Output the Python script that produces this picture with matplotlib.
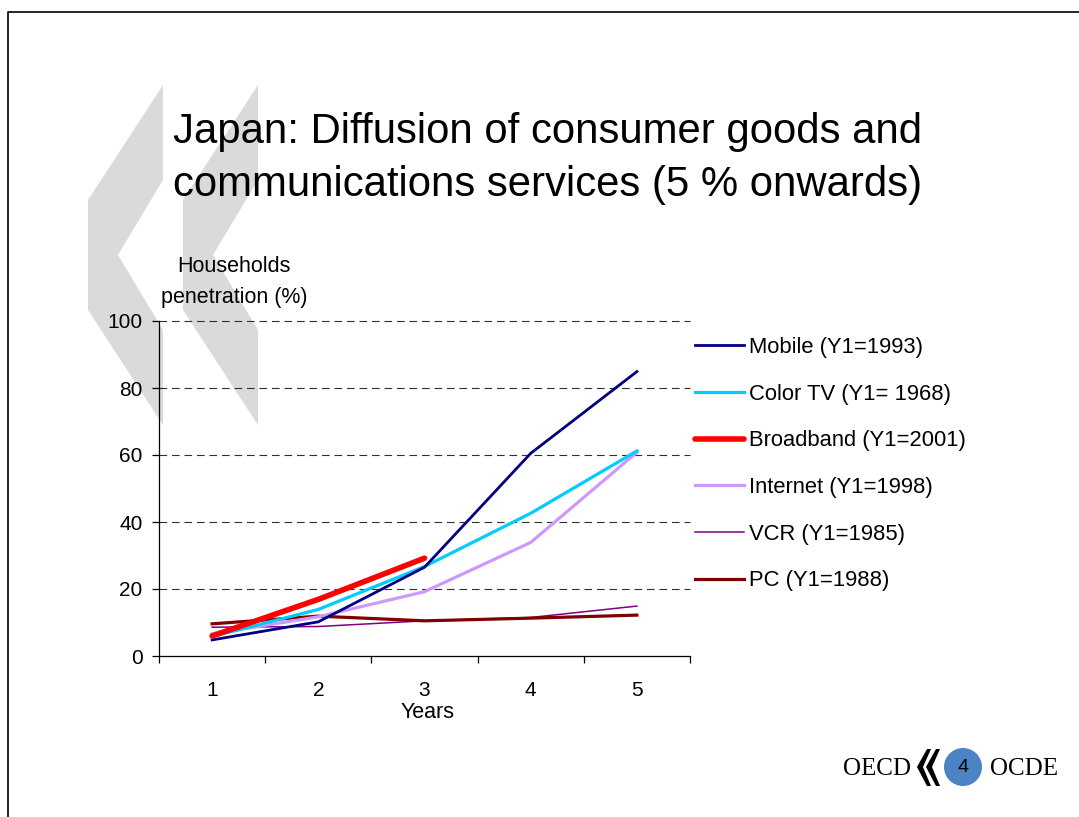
"""Japan: diffusion of consumer goods and communications services (OECD slide)."""

import matplotlib
matplotlib.use("Agg")
import matplotlib.pyplot as plt
from matplotlib.patches import Polygon, Circle

plt.rcParams['font.family'] = ['Liberation Sans', 'DejaVu Sans']
plt.rcParams['lines.scale_dashes'] = False

# Data
years = [1, 2, 3, 4, 5]
mobile = [4.8, 10.2, 26.5, 60.5, 84.9]
color_tv = [5.8, 13.9, 26.7, 42.6, 61.2]
broadband = [6.0, 16.9, 29.2]
internet = [6.6, 11.7, 19.2, 33.9, 60.8]
vcr = [8.6, 8.8, 10.5, 11.5, 14.9]
pc = [9.6, 11.9, 10.5, 11.3, 12.2]
y_ticks = [0, 20, 40, 60, 80, 100]

labels = ["Mobile (Y1=1993)", "Color TV (Y1= 1968)", "Broadband (Y1=2001)",
          "Internet (Y1=1998)", "VCR (Y1=1985)", "PC (Y1=1988)"]

W, H = 1079, 817
fig = plt.figure(figsize=(W / 100, H / 100), dpi=100)

# Background layer in pixel coordinates (slide decoration)
bg = fig.add_axes([0, 0, 1, 1], zorder=0)
bg.set_xlim(0, W)
bg.set_ylim(H, 0)
bg.axis('off')

# slide border
bg.plot([7.5, 7.5, W], [H, 12, 12], color='black', lw=1.2)

# grey chevrons
for dx in (0, 95):
    pts = [(163 + dx, 85), (88 + dx, 200), (88 + dx, 310), (163 + dx, 425),
           (163 + dx, 330), (118 + dx, 255), (163 + dx, 180)]
    bg.add_patch(Polygon(pts, closed=True, color='#DADADA', lw=0))

# title
bg.text(173, 143, "Japan: Diffusion of consumer goods and", fontsize=30.2,
        va='baseline', ha='left')
bg.text(173, 196, "communications services (5 % onwards)", fontsize=30.2,
        va='baseline', ha='left')

# axis titles
bg.text(234, 267, "Households", fontsize=15.5, ha='center', va='center')
bg.text(234, 297, "penetration (%)", fontsize=15.5, ha='center', va='center')
bg.text(428, 712, "Years", fontsize=15.5, ha='center', va='center')

# OECD logo
bg.text(843, 769, "OECD", family='Liberation Serif', fontsize=18,
        ha='left', va='center')
bg.text(990, 769, "OCDE", family='Liberation Serif', fontsize=18,
        ha='left', va='center')
for x0 in (917, 926):
    pts = [(x0 + 10, 749), (x0, 767), (x0 + 10, 786), (x0 + 14, 786),
           (x0 + 6, 767), (x0 + 14, 749)]
    bg.add_patch(Polygon(pts, closed=True, color='black', lw=0))
bg.add_patch(Circle((963, 767), 19, color='#4A84C4', lw=0))
bg.text(963, 768, "4", fontsize=14, ha='center', va='center')

# Main chart
ax = fig.add_axes([159 / W, 1 - 656 / H, 531 / W, 335 / H], zorder=1)
ax.patch.set_alpha(0)

for yv in y_ticks[1:]:
    ax.axhline(yv, color='#303030', lw=0.8, ls=(0, (5.5, 3.5)), clip_on=False,
               zorder=1)

l_vcr, = ax.plot(years, vcr, color='#800080', lw=1.1, zorder=3)
l_pc, = ax.plot(years, pc, color='#800000', lw=2.3, zorder=4)
l_int, = ax.plot(years, internet, color='#CC99FF', lw=2.3, zorder=5)
l_tv, = ax.plot(years, color_tv, color='#00CCFF', lw=2.3, zorder=6)
l_mob, = ax.plot(years, mobile, color='#000080', lw=2.0, zorder=7)
l_bb, = ax.plot(years[:len(broadband)], broadband, color='#FF0000', lw=4.0,
                solid_capstyle='round', zorder=8)

ax.set_xlim(0.5, 5.5)
ax.set_ylim(0, 100)
ax.spines['top'].set_visible(False)
ax.spines['right'].set_visible(False)
for s in ('left', 'bottom'):
    ax.spines[s].set_linewidth(0.9)

ax.set_yticks(y_ticks)
ax.tick_params(axis='y', direction='out', length=4.8, width=0.9, pad=7,
               labelsize=15)
ax.set_xticks(years)
ax.set_xticks([0.5, 1.5, 2.5, 3.5, 4.5, 5.5], minor=True)
ax.tick_params(axis='x', which='major', length=0, pad=18, labelsize=15)
ax.tick_params(axis='x', which='minor', direction='out', length=5, width=0.9)

handles = [l_mob, l_tv, l_bb, l_int, l_vcr, l_pc]
fig.legend(handles, labels, loc='upper left',
           bbox_to_anchor=(695 / W, 1 - 337 / H), frameon=False,
           fontsize=15.8, handlelength=2.25, handletextpad=0.23,
           labelspacing=1.17, borderpad=0, borderaxespad=0)

fig.savefig("out.png", dpi=100)
